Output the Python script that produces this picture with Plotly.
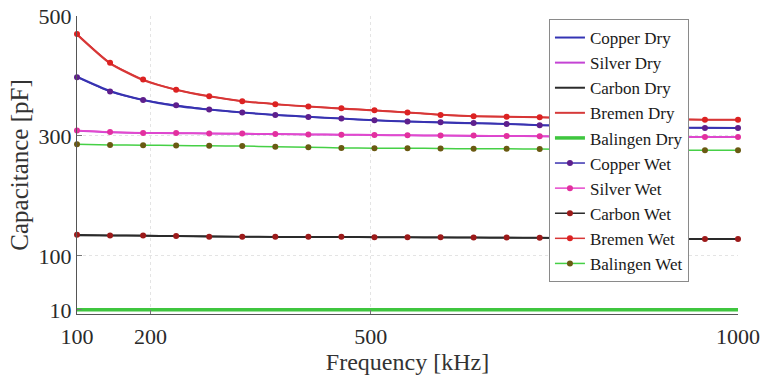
import plotly.graph_objects as go

# Measurement frequencies (kHz)
freq_khz = [100, 145, 190, 235, 280, 325, 370, 415, 460, 505, 550,
            595, 640, 685, 730, 775, 820, 865, 910, 955, 1000]

# Capacitance (pF), dry electrodes
copper_dry = [399, 375, 360, 350, 344, 339, 335, 332, 329, 326, 324,
              322.5, 321, 320, 318, 317, 316, 315, 314, 313.5, 313]
silver_dry = [308.5, 306, 305, 304.5, 304, 303.5, 303, 302.5, 302, 301.5, 301,
              300.5, 300, 300, 299.5, 299, 299, 298.5, 298.5, 298, 298]
carbon_dry = [134.5, 134, 133.5, 133, 132.5, 132, 131.5, 131.5, 131.5, 131, 131,
              130.5, 130.5, 130, 130, 129.5, 129, 129, 128.5, 128, 128]
bremen_dry = [469, 421, 393, 377, 366, 358, 353, 349, 345.5, 342.5, 339,
              335.5, 333, 332, 331, 330, 329, 328, 327.5, 327, 327]
balingen_dry = [10, 10, 10, 10, 10, 10, 10, 10, 10, 10, 10,
                10, 10, 10, 10, 10, 10, 10, 10, 10, 10]

# Capacitance (pF), wet electrodes
copper_wet = [398, 374, 360, 351, 344, 339, 335, 331.5, 329, 326, 324,
              323, 321.5, 320, 318, 317, 316, 315, 314, 313, 313]
silver_wet = [309, 306.5, 305, 305, 304, 304, 303, 302.5, 302, 301.5, 301,
              300.5, 300.5, 300, 299.5, 299, 299, 298.5, 298.5, 298, 298]
carbon_wet = [135, 134, 134, 133, 132, 132, 132, 132, 132, 131, 131,
              131, 130.5, 130.5, 130, 129.5, 129, 129, 128.5, 128, 128]
bremen_wet = [470, 422, 394, 377, 366, 358, 353, 349, 346, 343, 339,
              335, 333, 332, 331, 330, 329, 328, 328, 327, 327]
balingen_wet = [286, 285, 284.5, 284, 283.5, 283, 282, 281, 280, 279.5, 279.5,
                279, 278.5, 278.5, 278, 277.5, 277, 277, 276.5, 276, 276]

x_ticks = [100, 200, 500, 1000]
y_ticks = [10, 100, 300, 500]

serif = "Liberation Serif"

dry_series = [
    ("Copper Dry", copper_dry, "#3434b4", 2),
    ("Silver Dry", silver_dry, "#c444d4", 2),
    ("Carbon Dry", carbon_dry, "#2b2b2b", 2),
    ("Bremen Dry", bremen_dry, "#d63a3a", 2),
    ("Balingen Dry", balingen_dry, "#3fc63f", 3.5),
]
wet_series = [
    ("Copper Wet", copper_wet, "#3a32b0", "#5e1f8c"),
    ("Silver Wet", silver_wet, "#e648cc", "#e2309e"),
    ("Carbon Wet", carbon_wet, "#2b2b2b", "#9c1a1a"),
    ("Bremen Wet", bremen_wet, "#d83636", "#dc2222"),
    ("Balingen Wet", balingen_wet, "#46d046", "#6a5a12"),
]

fig = go.Figure()
for name, vals, color, width in dry_series:
    fig.add_trace(go.Scatter(
        x=freq_khz, y=vals, name=name, mode="lines",
        line=dict(color=color, width=width, shape="spline", smoothing=0.6),
        cliponaxis=False,
    ))
for name, vals, color, mcolor in wet_series:
    fig.add_trace(go.Scatter(
        x=freq_khz, y=vals, name=name, mode="lines+markers",
        line=dict(color=color, width=1.5, shape="spline", smoothing=0.6),
        marker=dict(color=mcolor, size=6, line=dict(width=0)),
        cliponaxis=False,
    ))

fig.update_layout(
    width=762, height=382,
    margin=dict(l=77, r=24, t=16, b=68, autoexpand=False),
    paper_bgcolor="white", plot_bgcolor="white",
    font=dict(family=serif, color="#222222"),
    showlegend=True,
    legend=dict(
        x=0.714, y=0.99, xanchor="left", yanchor="top",
        bgcolor="white", bordercolor="#8a8a8a", borderwidth=1,
        font=dict(family=serif, size=17, color="#1a1a1a"),
        itemwidth=30, tracegroupgap=0,
    ),
    xaxis=dict(
        range=[100, 1000], tickvals=x_ticks, ticktext=[str(v) for v in x_ticks],
        tickfont=dict(family=serif, size=22, color="#2a2a2a"),
        ticklabelstandoff=3, automargin=False,
        title=dict(text="Frequency [kHz]", font=dict(family=serif, size=24, color="#333333"),
                   standoff=0),
        showline=True, linecolor="#555555", linewidth=1,
        ticks="inside", ticklen=4, tickcolor="#777777",
        showgrid=True, gridcolor="#e4e4e4", griddash="dot", gridwidth=1,
        zeroline=False,
    ),
    yaxis=dict(
        range=[3, 500], tickvals=y_ticks, ticktext=[str(v) for v in y_ticks],
        tickfont=dict(family=serif, size=22, color="#2a2a2a"),
        automargin=False,
        title=dict(text="Capacitance [pF]", font=dict(family=serif, size=25, color="#333333"),
                   standoff=2),
        showline=True, linecolor="#555555", linewidth=1,
        ticks="inside", ticklen=5, tickcolor="#777777",
        showgrid=True, gridcolor="#e4e4e4", griddash="dot", gridwidth=1,
        zeroline=False,
    ),
)

fig.write_html("out.html")
